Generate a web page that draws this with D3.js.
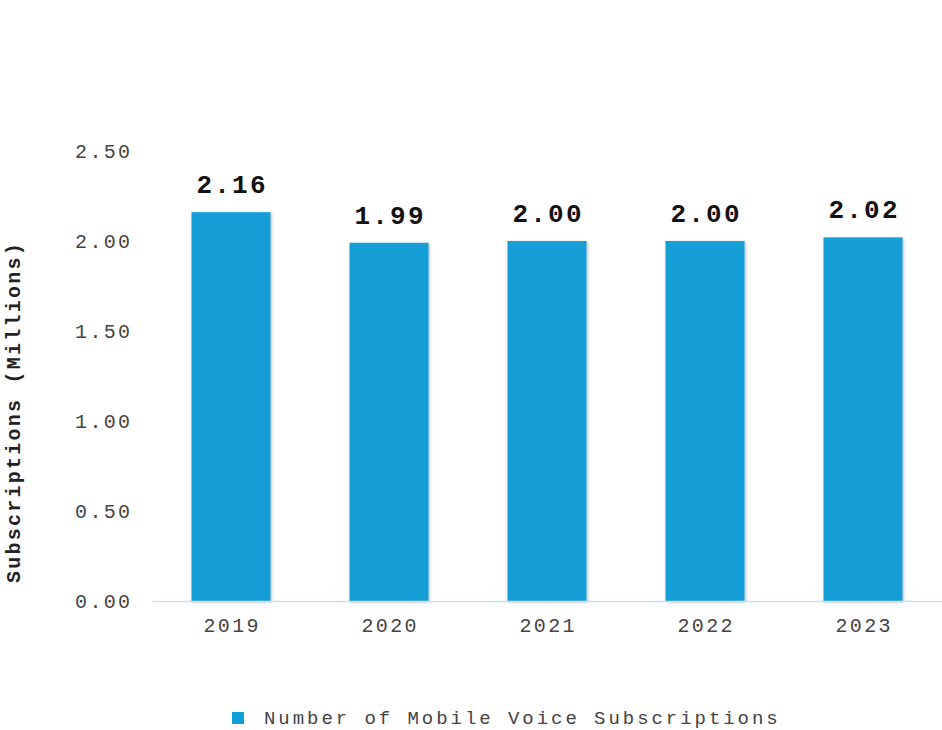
<!DOCTYPE html>
<html>
<head>
<meta charset="utf-8">
<script src="https://cdn.jsdelivr.net/npm/d3@7"></script>
<style>
  html, body { margin: 0; padding: 0; background: #ffffff; }
  svg { display: block; }
</style>
</head>
<body>
<svg id="chart" width="942" height="730"></svg>
<script>
// Mobile voice subscriptions by year (millions)
const years = ["2019", "2020", "2021", "2022", "2023"];
const subscriptions = [2.16, 1.99, 2.00, 2.00, 2.02];
const yTicks = [0, 0.5, 1.0, 1.5, 2.0, 2.5];
const seriesName = "Number of Mobile Voice Subscriptions";
const yTitle = "Subscriptions (Millions)";

const FONT = "'Liberation Mono', 'Courier New', monospace";
const BAR = "#129ed6";
const FS = 20;   // axis / legend font size
const LS = 2.3;  // letter spacing for the wide monospace look

const svg = d3.select("#chart");
const margin = { left: 152, right: 0, top: 151, bottom: 129 };
const W = 942, H = 730;

const defs = svg.append("defs");
const shadow = defs.append("filter").attr("id", "barShadow")
  .attr("x", "-10%").attr("y", "-10%").attr("width", "130%").attr("height", "130%");
shadow.append("feDropShadow").attr("dx", 1).attr("dy", 1).attr("stdDeviation", 1.5)
  .attr("flood-color", "#000").attr("flood-opacity", 0.3);

const x = d3.scaleBand().domain(years)
  .range([margin.left, W - margin.right]).paddingInner(0.5).paddingOuter(0.25);
const y = d3.scaleLinear().domain([0, 2.5]).range([H - margin.bottom, margin.top]);

// Y axis labels (no line, no ticks)
const yAxis = svg.append("g").attr("transform", `translate(${margin.left - 22 + LS},0)`)
  .call(d3.axisLeft(y).tickValues(yTicks).tickFormat(d3.format(".2f")).tickSize(0).tickPadding(0));
yAxis.select(".domain").remove();
yAxis.selectAll("text").attr("font-family", FONT).attr("font-size", FS)
  .attr("letter-spacing", LS).attr("fill", "#444");

// Bars
svg.append("g").selectAll("rect").data(years).join("rect")
  .attr("x", d => x(d))
  .attr("width", x.bandwidth())
  .attr("y", (d, i) => y(subscriptions[i]))
  .attr("height", (d, i) => y(0) - y(subscriptions[i]))
  .attr("fill", BAR)
  .attr("filter", "url(#barShadow)");

// X axis baseline and labels
const xAxis = svg.append("g").attr("transform", `translate(0,${y(0)})`)
  .call(d3.axisBottom(x).tickSize(0).tickPadding(17));
xAxis.select(".domain").attr("stroke", "#c9def2").attr("stroke-width", 1.5);
xAxis.selectAll("text").attr("font-family", FONT).attr("font-size", FS)
  .attr("letter-spacing", LS).attr("dx", LS / 2).attr("fill", "#444");

// Value labels
svg.append("g").selectAll("text").data(years).join("text")
  .attr("x", d => x(d) + x.bandwidth() / 2 + 1.1)
  .attr("y", (d, i) => y(subscriptions[i]) - 19)
  .attr("text-anchor", "middle")
  .attr("font-family", FONT).attr("font-size", 26).attr("font-weight", "bold")
  .attr("letter-spacing", 2.2)
  .attr("fill", "#111")
  .text((d, i) => d3.format(".2f")(subscriptions[i]));

// Y title
svg.append("text")
  .attr("transform", "translate(20,412) rotate(-90)")
  .attr("text-anchor", "middle")
  .attr("font-family", FONT).attr("font-size", FS).attr("font-weight", "bold")
  .attr("letter-spacing", 2.25)
  .attr("fill", "#222")
  .text(yTitle);

// Legend
const lg = svg.append("g").attr("transform", "translate(232,712)");
lg.append("rect").attr("width", 12).attr("height", 12).attr("fill", BAR);
lg.append("text").attr("x", 32).attr("y", 12)
  .attr("font-family", FONT).attr("font-size", 19).attr("letter-spacing", 2.95)
  .attr("fill", "#444")
  .text(seriesName);
</script>
</body>
</html>
